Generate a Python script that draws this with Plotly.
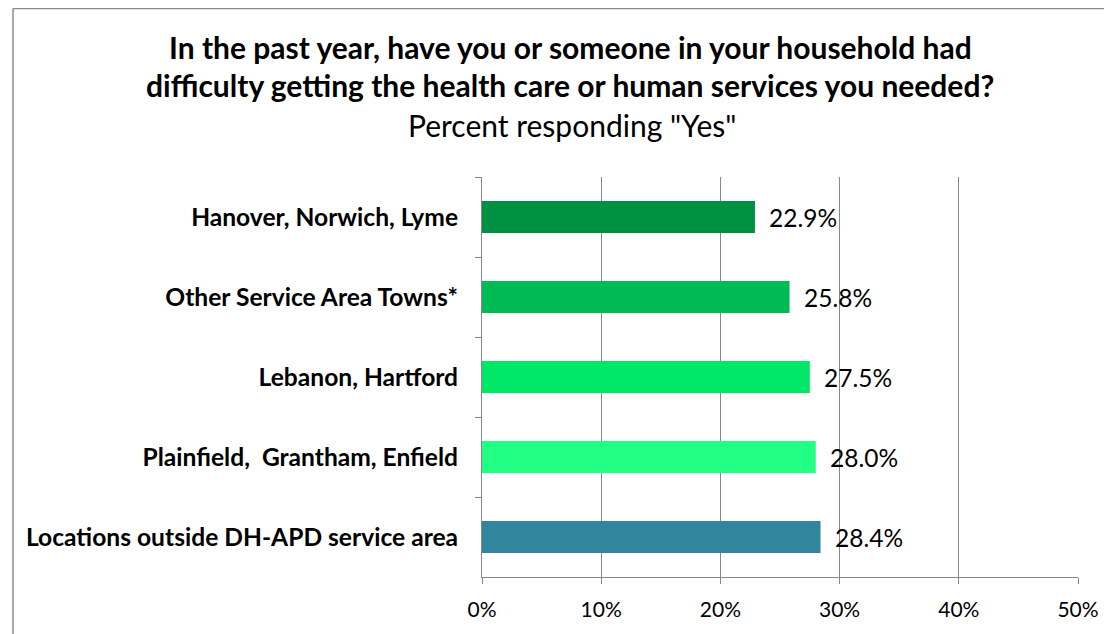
import plotly.graph_objects as go

categories = [
    "Hanover, Norwich, Lyme",
    "Other Service Area Towns*",
    "Lebanon, Hartford",
    "Plainfield,  Grantham, Enfield",
    "Locations outside DH-APD service area",
]
values = [22.9, 25.8, 27.5, 28.0, 28.4]
bar_colors = ["#009041", "#00BA53", "#00E666", "#22FF85", "#31859C"]
x_ticks = [0, 10, 20, 30, 40, 50]
title_lines = [
    "In the past year, have you or someone in your household had",
    "difficulty getting the health care or human services you needed?",
]
subtitle = 'Percent responding "Yes"'

W, H = 1112, 634
L, R, T, B = 474, 42, 169, 65
FONT = "Lato"

fig = go.Figure()
fig.add_trace(go.Bar(
    y=categories, x=values, orientation="h",
    marker=dict(color=bar_colors, line=dict(width=0)),
    hoverinfo="skip",
))

for c, v in zip(categories, values):
    fig.add_annotation(x=v, y=c, xref="x", yref="y", text=f"{v:.1f}%",
                       showarrow=False, xanchor="left", xshift=12,
                       font=dict(family=FONT, size=24.5, color="#000000"))

pw, ph = W - L - R, H - T - B
def px(xp):
    return (xp - L) / pw
def py(yp):
    return (H - B - yp) / ph

# title lines
for txt, yp in zip(title_lines, [39, 77]):
    fig.add_annotation(x=px(562), y=py(yp), xref="paper", yref="paper",
                       text=f"<b>{txt}</b>", showarrow=False,
                       xanchor="center", yanchor="middle",
                       font=dict(family=FONT, size=30, color="#000000"))
fig.add_annotation(x=px(564), y=py(117), xref="paper", yref="paper",
                   text=subtitle, showarrow=False, xanchor="center", yanchor="middle",
                   font=dict(family=FONT, size=30, color="#000000"))

# chart border
border = "#8C8C8C"
fig.add_shape(type="line", xref="paper", yref="paper", x0=px(5), x1=px(5),
              y0=py(0.5), y1=py(H + 10), line=dict(color=border, width=1.5))
fig.add_shape(type="line", xref="paper", yref="paper", x0=px(5), x1=px(W + 10),
              y0=py(0.5), y1=py(0.5), line=dict(color=border, width=1.5))

fig.update_layout(
    width=W, height=H,
    margin=dict(l=L, r=R, t=T, b=B, pad=0),
    paper_bgcolor="white", plot_bgcolor="white",
    bargap=0.6, showlegend=False,
    font=dict(family=FONT, color="#000000"),
)
fig.update_xaxes(
    range=[0, 50], tickvals=x_ticks, ticktext=[f"{t}%" for t in x_ticks],
    showgrid=True, gridcolor="#878787", gridwidth=1,
    showline=True, linecolor="#878787", linewidth=1,
    ticks="outside", ticklen=6, tickcolor="#878787",
    ticklabelstandoff=8,
    tickfont=dict(family=FONT, size=21, color="#000000"),
    zeroline=False, fixedrange=True,
)
fig.update_yaxes(
    autorange="reversed", categoryorder="array", categoryarray=categories,
    showline=True, linecolor="#878787", linewidth=1,
    ticks="outside", ticklen=6, tickcolor="#878787", tickson="boundaries",
    ticklabelstandoff=18,
    tickfont=dict(family=FONT, size=24.6, color="#000000"),
    tickprefix="<b>", ticksuffix="</b>",
    showgrid=False, fixedrange=True,
)

fig.write_html("out.html")
